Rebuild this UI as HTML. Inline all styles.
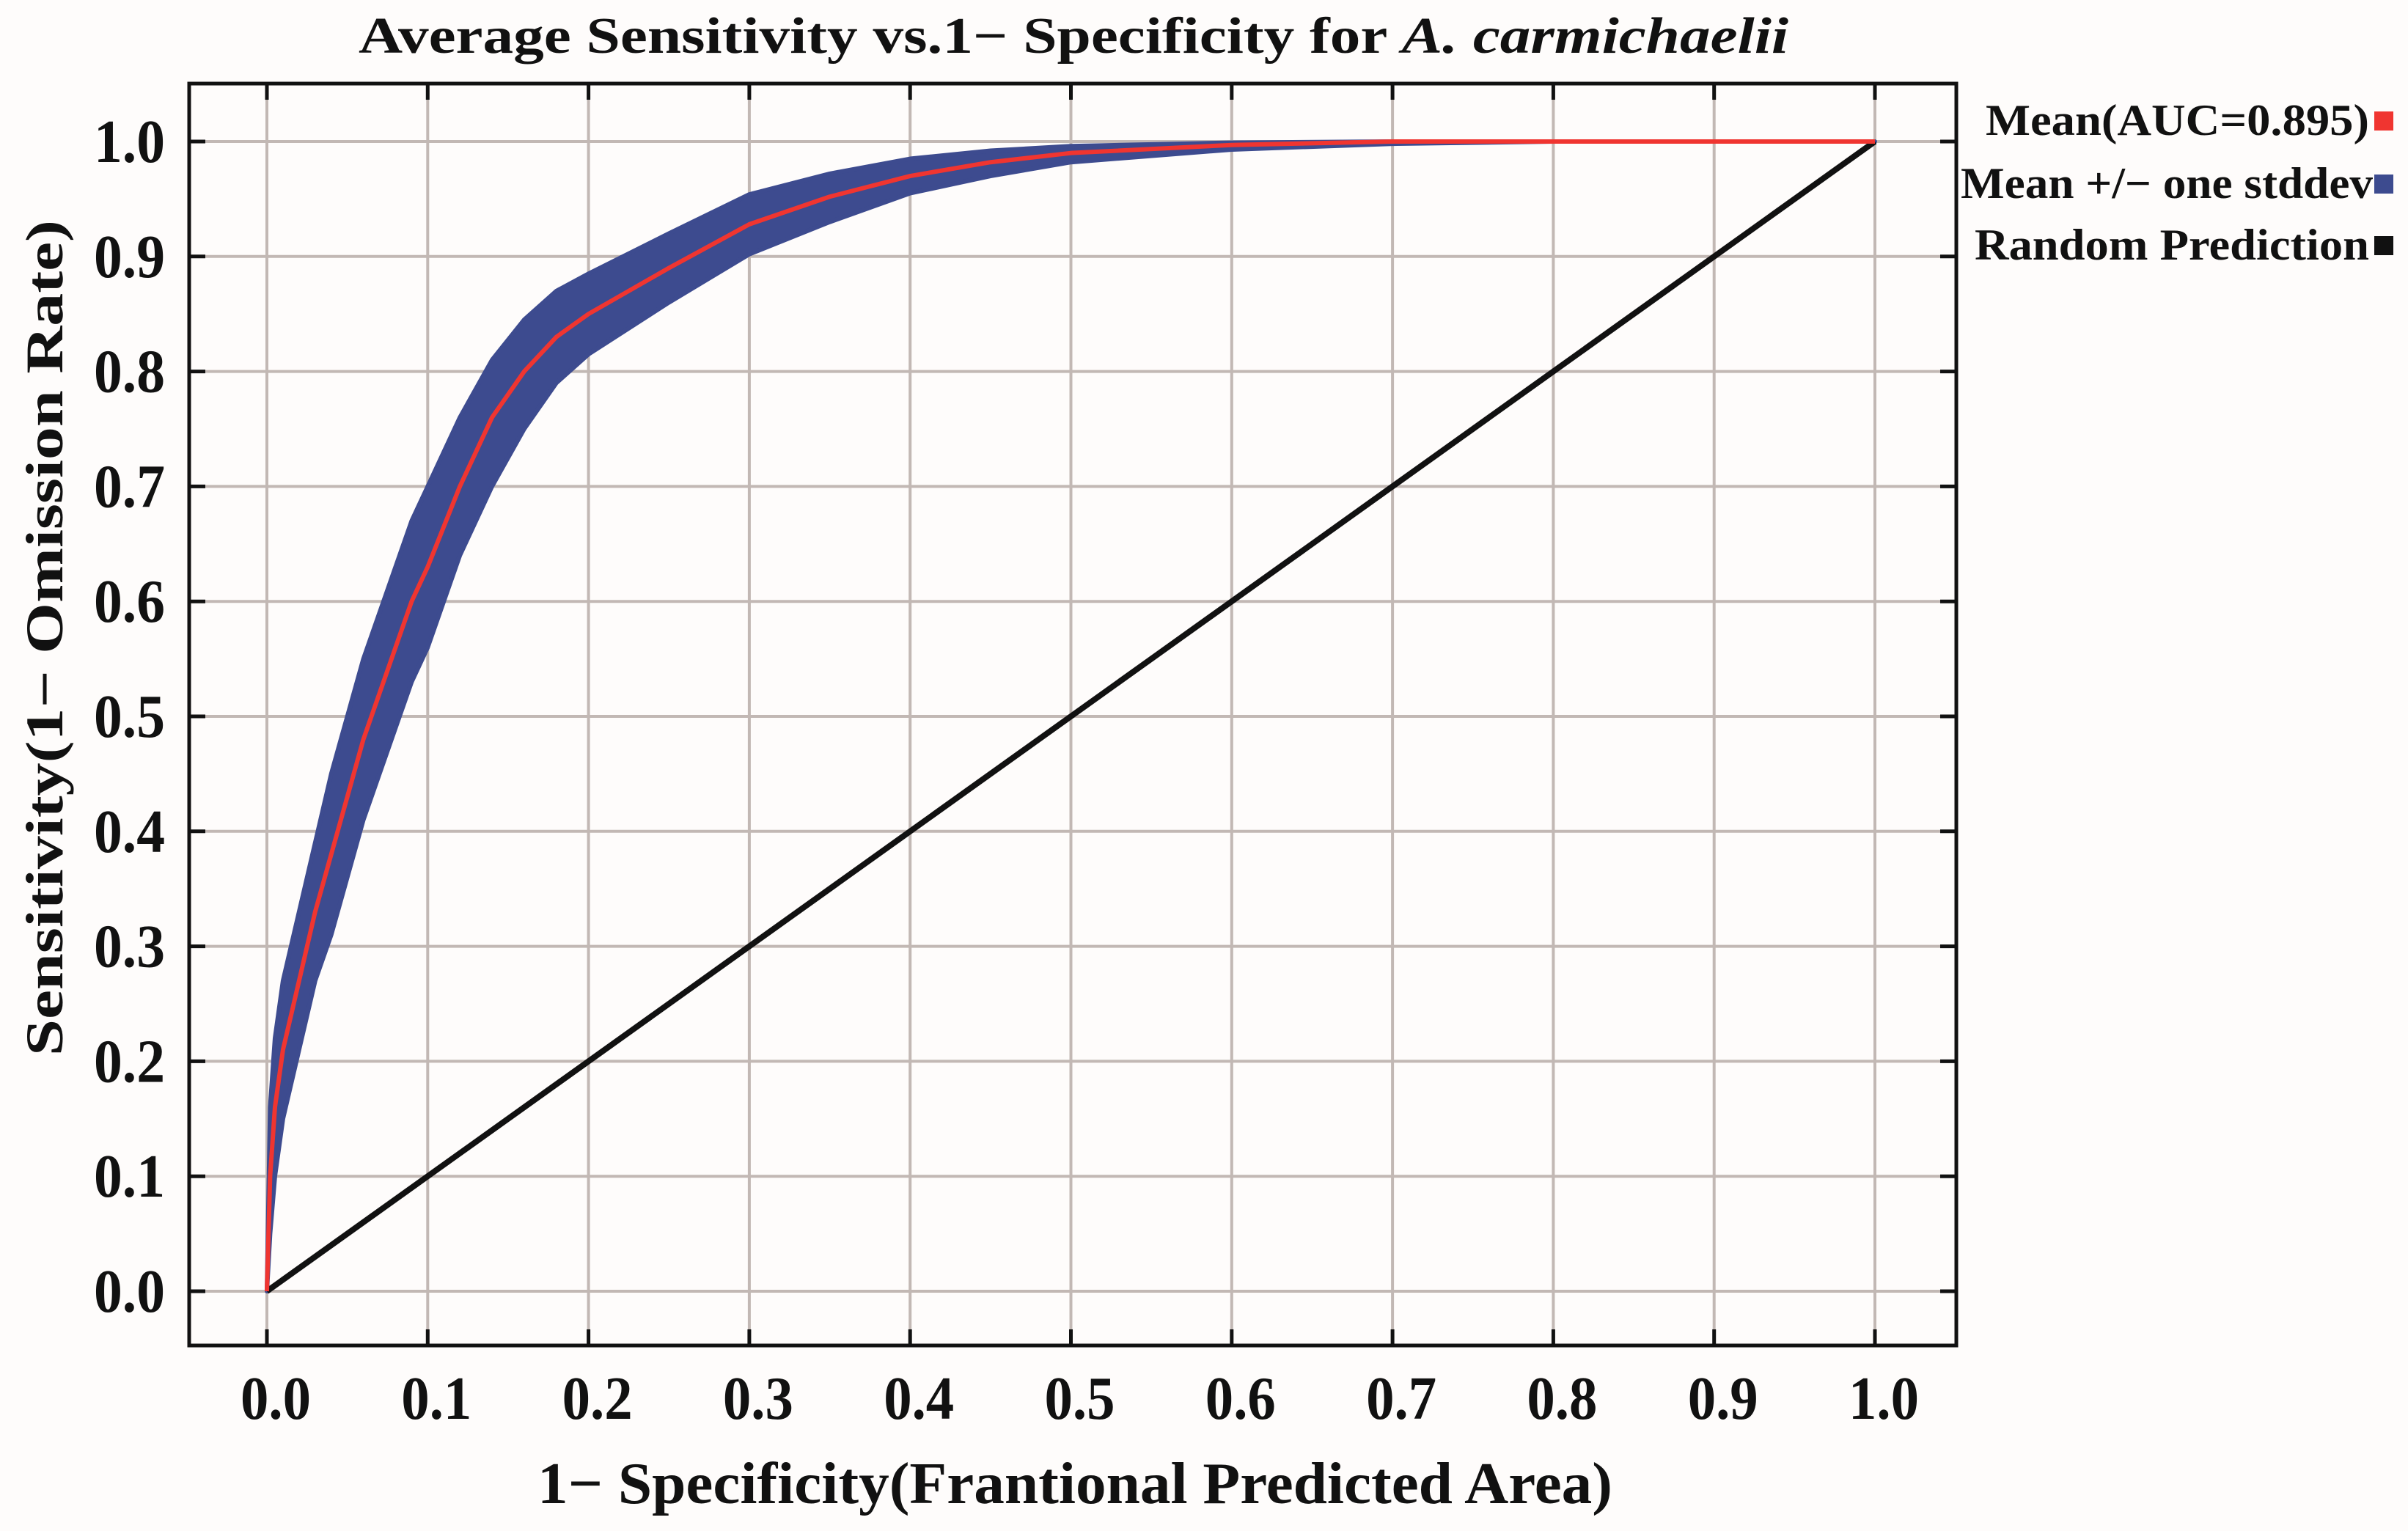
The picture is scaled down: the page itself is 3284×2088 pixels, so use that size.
<!DOCTYPE html>
<html><head><meta charset="utf-8"><style>
html,body{margin:0;padding:0;background:#fefcfb;}
svg{display:block;}
text{font-family:"Liberation Serif",serif;font-weight:bold;fill:#111;}
</style></head><body>
<svg id="chart" width="3284" height="2088" viewBox="0 0 3284 2088" xmlns="http://www.w3.org/2000/svg">
<rect width="3284" height="2088" fill="#fefcfb"/>
<text x="1464" y="72" font-size="70" text-anchor="middle" textLength="1950" lengthAdjust="spacingAndGlyphs">Average Sensitivity vs.1− Specificity for <tspan font-style="italic">A. carmichaelii</tspan></text>
<g id="grid"></g>
<g id="series"></g>
<rect x="258" y="114" width="2410" height="1721" fill="none" stroke="#111" stroke-width="5"/>
<g id="ticks"></g>
<text x="1466" y="2050" font-size="80" text-anchor="middle" textLength="1466" lengthAdjust="spacingAndGlyphs">1− Specificity(Frantional Predicted Area)</text>
<text transform="translate(85,870) rotate(-90)" font-size="72" text-anchor="middle" textLength="1140" lengthAdjust="spacingAndGlyphs">Sensitivity(1− Omission Rate)</text>
<g>
<text x="3231" y="184" font-size="60" text-anchor="end" textLength="523" lengthAdjust="spacingAndGlyphs">Mean(AUC=0.895)</text>
<rect x="3238" y="152" width="26" height="26" fill="#f03530"/>
<text x="3236" y="270" font-size="60" text-anchor="end" textLength="562" lengthAdjust="spacingAndGlyphs">Mean +/− one stddev</text>
<rect x="3238" y="238" width="26" height="26" fill="#3d4b8f"/>
<text x="3231" y="354" font-size="60" text-anchor="end" textLength="538" lengthAdjust="spacingAndGlyphs">Random Prediction</text>
<rect x="3238" y="322" width="26" height="26" fill="#111"/>
</g>
</svg>
<script>
const fpr   = [0,0.002,0.005,0.01,0.02,0.03,0.04,0.05,0.06,0.07,0.08,0.09,0.1,0.12,0.14,0.16,0.18,0.2,0.25,0.3,0.35,0.4,0.45,0.5,0.6,0.7,0.8,1.0];
const meanTpr  = [0,0.1,0.16,0.21,0.27,0.33,0.38,0.43,0.48,0.52,0.56,0.6,0.63,0.7,0.76,0.8,0.83,0.85,0.89,0.928,0.952,0.97,0.982,0.99,0.997,1,1,1];
const upperTpr = [0,0.16,0.22,0.27,0.33,0.39,0.45,0.5,0.55,0.59,0.63,0.67,0.7,0.76,0.81,0.845,0.87,0.885,0.92,0.954,0.972,0.985,0.992,0.996,0.999,1,1,1];
const lowerTpr = [0,0.05,0.1,0.15,0.21,0.27,0.31,0.36,0.41,0.45,0.49,0.53,0.56,0.64,0.7,0.75,0.79,0.815,0.86,0.902,0.93,0.955,0.97,0.982,0.993,0.998,1,1];
const randomX = [0,1];
const randomY = [0,1];
const xTicks = [0,0.1,0.2,0.3,0.4,0.5,0.6,0.7,0.8,0.9,1.0];
const yTicks = [0,0.1,0.2,0.3,0.4,0.5,0.6,0.7,0.8,0.9,1.0];

const NS="http://www.w3.org/2000/svg";
const X0=364,X1=2557,Y0=1761,Y1=193;
function sx(v){return X0+(X1-X0)*v;}
function sy(v){return Y0-(Y0-Y1)*v;}
function mk(tag,attrs,parent){const e=document.createElementNS(NS,tag);for(const k in attrs)e.setAttribute(k,attrs[k]);parent.appendChild(e);return e;}
const grid=document.getElementById('grid'),ticks=document.getElementById('ticks'),series=document.getElementById('series');
const L=258,R=2668,T=114,B=1835,TL=22;
xTicks.forEach(v=>{
  const g=mk('line',{x1:sx(v),x2:sx(v),y1:T,y2:B,stroke:'#c2b8b4','stroke-width':4},grid);
  
  
  const t1=mk('line',{x1:sx(v),x2:sx(v),y1:B,y2:B-TL,stroke:'#111','stroke-width':5},ticks);
  
  
  const t2=mk('line',{x1:sx(v),x2:sx(v),y1:T,y2:T+TL,stroke:'#111','stroke-width':5},ticks);
  
  
  const lb=mk('text',{x:sx(v)+12,y:1935,'font-size':84,'text-anchor':'middle',textLength:96,lengthAdjust:'spacingAndGlyphs'},ticks);
  lb.textContent=v.toFixed(1);
  
  
});
yTicks.forEach(v=>{
  const g=mk('line',{x1:L,x2:R,y1:sy(v),y2:sy(v),stroke:'#c2b8b4','stroke-width':4},grid);
  
  
  const t1=mk('line',{x1:L,x2:L+TL,y1:sy(v),y2:sy(v),stroke:'#111','stroke-width':5},ticks);
  
  
  const t2=mk('line',{x1:R,x2:R-TL,y1:sy(v),y2:sy(v),stroke:'#111','stroke-width':5},ticks);
  
  
  const lb=mk('text',{x:225,y:sy(v)+28,'font-size':84,'text-anchor':'end',textLength:97,lengthAdjust:'spacingAndGlyphs'},ticks);
  lb.textContent=v.toFixed(1);
  
  
});
let d='M'+fpr.map((x,i)=>sx(x)+','+sy(upperTpr[i])).join(' L');
for(let i=fpr.length-1;i>=0;i--) d+=' L'+sx(fpr[i])+','+sy(lowerTpr[i]);
d+=' Z';
const band=mk('path',{d:d,fill:'#3d4b8f',stroke:'#3d4b8f','stroke-width':6,'stroke-linejoin':'round'},series);


const rnd=mk('polyline',{points:randomX.map((x,i)=>sx(x)+','+sy(randomY[i])).join(' '),fill:'none',stroke:'#111','stroke-width':8},series);


const mean=mk('polyline',{points:fpr.map((x,i)=>sx(x)+','+sy(meanTpr[i])).join(' '),fill:'none',stroke:'#f03530','stroke-width':6,'stroke-linejoin':'round'},series);


</script>
</body></html>
